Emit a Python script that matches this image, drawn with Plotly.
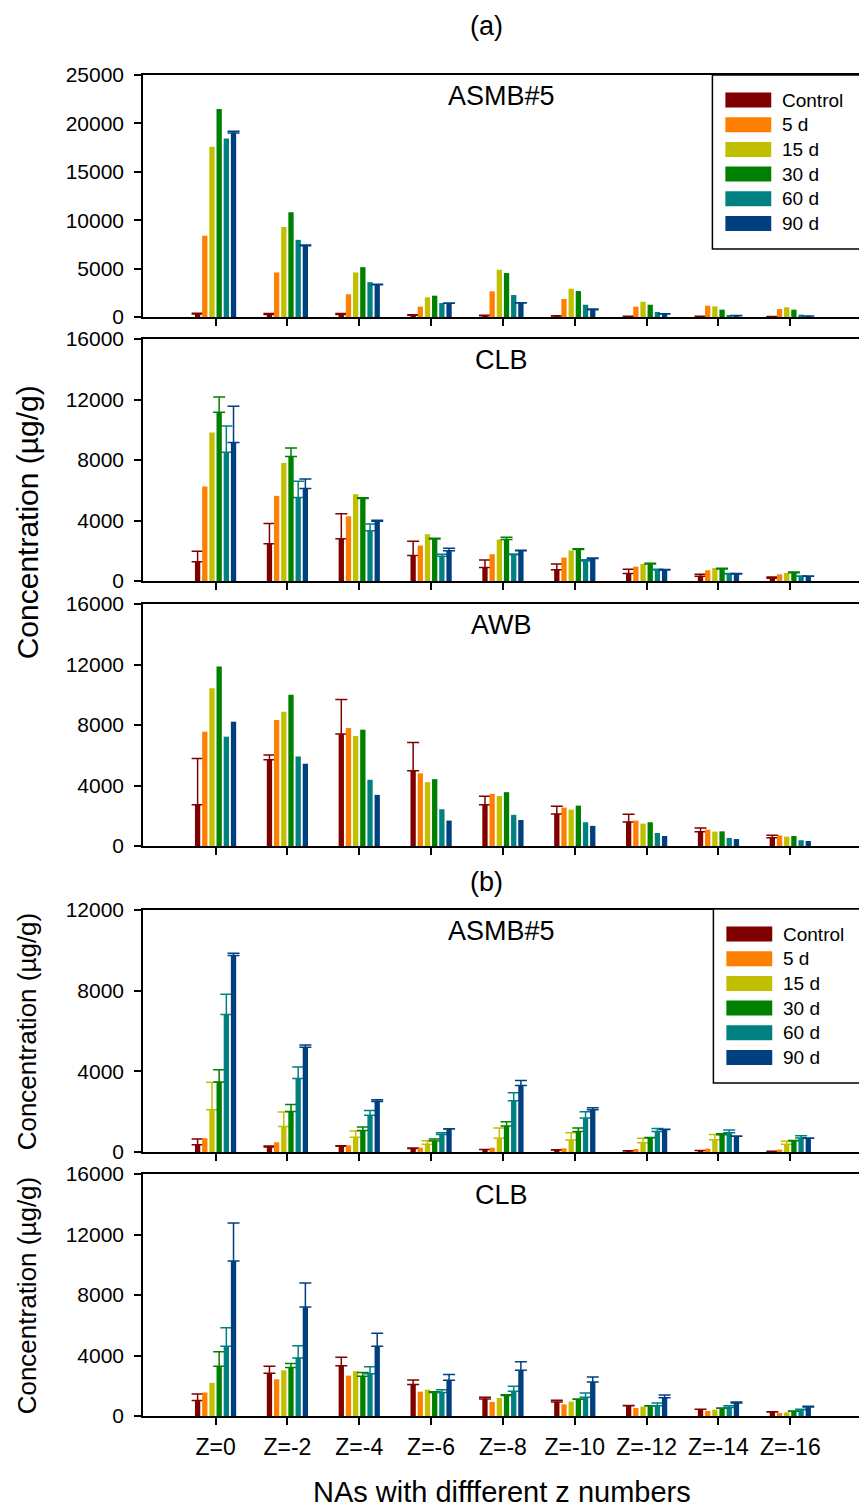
import plotly.graph_objects as go

# ---------------- data ----------------
categories = ["Z=0", "Z=-2", "Z=-4", "Z=-6", "Z=-8", "Z=-10", "Z=-12", "Z=-14", "Z=-16"]
series_names = ["Control", "5 d", "15 d", "30 d", "60 d", "90 d"]
series_colors = ["#800000", "#FF8000", "#C0C000", "#008000", "#008080", "#004080"]

# (a) ASMB#5
a_asmb_control = [300, 250, 250, 180, 140, 100, 80, 60, 50]
a_asmb_control_err = [100, 100, 100, 50, 30, 20, 10, 10, 10]
a_asmb_5d = [8400, 4600, 2350, 1070, 2650, 1860, 1070, 1170, 820]
a_asmb_15d = [17600, 9300, 4600, 2030, 4880, 2920, 1580, 1100, 1000]
a_asmb_30d = [21500, 10820, 5150, 2200, 4540, 2680, 1270, 760, 760]
a_asmb_60d = [18450, 7970, 3600, 1440, 2270, 1270, 520, 200, 240]
a_asmb_90d = [19000, 7350, 3330, 1410, 1440, 760, 310, 140, 100]
a_asmb_90d_err = [200, 80, 60, 40, 40, 70, 30, 20, 10]

# (a) CLB
a_clb_control = [1280, 2470, 2800, 1680, 900, 750, 490, 310, 180]
a_clb_control_err = [690, 1330, 1640, 950, 490, 380, 280, 130, 80]
a_clb_5d = [6250, 5630, 4280, 2340, 1770, 1550, 950, 710, 440]
a_clb_15d = [9820, 7810, 5740, 3090, 2740, 2010, 1130, 860, 530]
a_clb_30d = [11150, 8230, 5450, 2780, 2740, 2080, 1130, 790, 550]
a_clb_30d_err = [1010, 560, 50, 50, 150, 50, 50, 50, 40]
a_clb_60d = [8520, 5520, 3330, 1630, 1740, 1320, 730, 460, 310]
a_clb_60d_err = [1720, 1080, 440, 140, 40, 90, 40, 30, 20]
a_clb_90d = [9160, 6110, 3950, 2000, 2000, 1480, 730, 460, 310]
a_clb_90d_err = [2390, 640, 60, 160, 30, 40, 30, 30, 20]

# (a) AWB
a_awb_control = [2720, 5700, 7400, 4970, 2720, 2120, 1590, 950, 550]
a_awb_control_err = [3070, 310, 2280, 1880, 570, 510, 510, 240, 160]
a_awb_5d = [7560, 8330, 7800, 4800, 3450, 2540, 1680, 1080, 690]
a_awb_15d = [10430, 8880, 7270, 4220, 3310, 2410, 1480, 950, 620]
a_awb_30d = [11870, 10000, 7690, 4420, 3560, 2670, 1570, 970, 660]
a_awb_60d = [7230, 5920, 4380, 2430, 2060, 1570, 860, 530, 380]
a_awb_90d = [8220, 5440, 3380, 1680, 1720, 1330, 660, 460, 330]

# (b) ASMB#5
b_asmb_control = [360, 250, 280, 170, 120, 100, 50, 70, 30]
b_asmb_control_err = [280, 50, 30, 30, 10, 10, 10, 10, 10]
b_asmb_5d = [680, 480, 330, 210, 210, 180, 150, 170, 120]
b_asmb_15d = [2100, 1270, 730, 380, 680, 590, 460, 610, 380]
b_asmb_15d_err = [1360, 710, 310, 180, 510, 370, 220, 260, 150]
b_asmb_30d = [3470, 2010, 1070, 540, 1290, 1020, 710, 860, 560]
b_asmb_30d_err = [610, 350, 170, 100, 210, 170, 10, 50, 10]
b_asmb_60d = [6820, 3650, 1820, 870, 2540, 1680, 1020, 960, 690]
b_asmb_60d_err = [1000, 570, 240, 90, 400, 320, 150, 130, 120]
b_asmb_90d = [9740, 5200, 2510, 1140, 3300, 2100, 1120, 780, 680]
b_asmb_90d_err = [110, 100, 80, 10, 250, 90, 10, 10, 10]

# (b) CLB
b_clb_control = [1020, 2830, 3330, 2080, 1130, 930, 680, 440, 260]
b_clb_control_err = [440, 460, 560, 300, 110, 110, 20, 10, 20]
b_clb_5d = [1550, 2430, 2670, 1610, 930, 770, 530, 330, 200]
b_clb_15d = [2190, 3020, 2960, 1740, 1190, 950, 620, 420, 240]
b_clb_30d = [3290, 3200, 2630, 1550, 1350, 1100, 660, 510, 310]
b_clb_30d_err = [950, 270, 240, 50, 50, 30, 20, 20, 20]
b_clb_60d = [4610, 3840, 2800, 1550, 1630, 1240, 680, 570, 420]
b_clb_60d_err = [1220, 800, 450, 190, 330, 280, 180, 110, 30]
b_clb_90d = [10240, 7200, 4610, 2360, 3020, 2250, 1210, 860, 600]
b_clb_90d_err = [2520, 1590, 860, 380, 560, 330, 180, 70, 40]

panel_titles = ["ASMB#5", "CLB", "AWB", "ASMB#5", "CLB"]
y_tick_sets = [
    [0, 5000, 10000, 15000, 20000, 25000],
    [0, 4000, 8000, 12000, 16000],
    [0, 4000, 8000, 12000, 16000],
    [0, 4000, 8000, 12000],
    [0, 4000, 8000, 12000, 16000],
]

panels = [
    ([a_asmb_control, a_asmb_5d, a_asmb_15d, a_asmb_30d, a_asmb_60d, a_asmb_90d],
     [a_asmb_control_err, None, None, None, None, a_asmb_90d_err]),
    ([a_clb_control, a_clb_5d, a_clb_15d, a_clb_30d, a_clb_60d, a_clb_90d],
     [a_clb_control_err, None, None, a_clb_30d_err, a_clb_60d_err, a_clb_90d_err]),
    ([a_awb_control, a_awb_5d, a_awb_15d, a_awb_30d, a_awb_60d, a_awb_90d],
     [a_awb_control_err, None, None, None, None, None]),
    ([b_asmb_control, b_asmb_5d, b_asmb_15d, b_asmb_30d, b_asmb_60d, b_asmb_90d],
     [b_asmb_control_err, None, b_asmb_15d_err, b_asmb_30d_err, b_asmb_60d_err, b_asmb_90d_err]),
    ([b_clb_control, b_clb_5d, b_clb_15d, b_clb_30d, b_clb_60d, b_clb_90d],
     [b_clb_control_err, None, None, b_clb_30d_err, b_clb_60d_err, b_clb_90d_err]),
]

# ---------------- layout geometry (screen pixels; page body has 8px margin) ----------------
OFF = 8
W, H = 867 - OFF, 1510 - OFF
P_LEFT, P_RIGHT, P_TOP, P_BOT = 143, 862, 75, 1416
ML, MR, MT, MB = P_LEFT - OFF, (W + OFF) - P_RIGHT, P_TOP - OFF, (H + OFF) - P_BOT
panel_px = [(75, 317), (339, 581), (604, 846), (910, 1152), (1174, 1416)]


def py(pix):
    return (P_BOT - pix) / (P_BOT - P_TOP)


def px(pix):
    return (pix - P_LEFT) / (P_RIGHT - P_LEFT)


FONT = "Liberation Sans, Arial, Helvetica, sans-serif"

fig = go.Figure()
for i, (vals, errs) in enumerate(panels):
    n = i + 1
    xa = "x" if n == 1 else f"x{n}"
    ya = "y" if n == 1 else f"y{n}"
    for k, name in enumerate(series_names):
        kw = {}
        if errs[k] is not None:
            kw["error_y"] = dict(type="data", array=errs[k], arrayminus=[0] * len(errs[k]),
                                 symmetric=False, color=series_colors[k], thickness=1.5, width=6)
        fig.add_trace(go.Bar(
            x=categories, y=vals[k], name=name, xaxis=xa, yaxis=ya,
            marker=dict(color=series_colors[k], line=dict(width=0)),
            showlegend=False, **kw))

layout = dict(
    width=W, height=H, margin=dict(l=ML, r=MR, t=MT, b=MB, pad=0),
    paper_bgcolor="white", plot_bgcolor="white",
    barmode="group", bargap=0.40, bargroupgap=0.26,
    font=dict(family=FONT, color="black"),
    showlegend=False,
)
for i in range(5):
    n = i + 1
    sfx = "" if n == 1 else str(n)
    top, bot = panel_px[i]
    layout[f"xaxis{sfx}"] = dict(
        type="category", range=[-1.01, 8.97], domain=[0, 1], anchor=f"y{sfx}",
        showline=True, linecolor="black", linewidth=1.5, mirror=True,
        ticks="outside", ticklen=7, tickwidth=1.5, tickcolor="black",
        showgrid=False, zeroline=False, showticklabels=(n == 5),
        tickfont=dict(size=23, family=FONT), ticklabelstandoff=3,
    )
    ticks = y_tick_sets[i]
    layout[f"yaxis{sfx}"] = dict(
        range=[0, ticks[-1]], domain=[py(bot), py(top)], anchor=f"x{sfx}",
        tickvals=ticks, ticktext=[str(t) for t in ticks],
        showline=True, linecolor="black", linewidth=1.5, mirror=True,
        ticks="outside", ticklen=7, tickwidth=1.5, tickcolor="black",
        showgrid=False, zeroline=False, tickfont=dict(size=21, family=FONT),
        ticklabelstandoff=6,
    )

annotations = []
shapes = []

# legends (boxes in panels (a) ASMB#5 and (b) ASMB#5), built from the series lists
legend_boxes = [(714, 75, 862, 249, 100), (715, 909, 862, 1083, 934)]
for (lx0, ly0, lx1, ly1, first_y) in legend_boxes:
    shapes.append(dict(type="rect", xref="paper", yref="paper",
                       x0=px(lx0), x1=px(lx1), y0=py(ly1), y1=py(ly0),
                       line=dict(color="black", width=1.5), fillcolor="white", layer="above"))
    for k, name in enumerate(series_names):
        yc = first_y + 24.7 * k
        shapes.append(dict(type="rect", xref="paper", yref="paper",
                           x0=px(lx0 + 13), x1=px(lx0 + 59), y0=py(yc + 7.5), y1=py(yc - 7.5),
                           line=dict(width=0), fillcolor=series_colors[k], layer="above"))
        annotations.append(dict(text=name, xref="paper", yref="paper", x=px(lx0 + 68),
                                y=py(yc), xanchor="left", yanchor="middle", showarrow=False,
                                font=dict(size=19, family=FONT)))

for i, t in enumerate(panel_titles):
    n = i + 1
    sfx = "" if n == 1 else str(n)
    annotations.append(dict(text=t, xref=f"x{sfx} domain", yref=f"y{sfx} domain",
                            x=0.5, y=1 - 21 / 242, xanchor="center", yanchor="middle",
                            showarrow=False, font=dict(size=27, family=FONT)))
annotations += [
    dict(text="(a)", xref="paper", yref="paper", x=px(487), y=py(26), xanchor="center",
         yanchor="middle", showarrow=False, font=dict(size=27, family=FONT)),
    dict(text="(b)", xref="paper", yref="paper", x=px(487), y=py(882), xanchor="center",
         yanchor="middle", showarrow=False, font=dict(size=27, family=FONT)),
    dict(text="NAs with diffferent z numbers", xref="paper", yref="paper", x=px(503),
         y=py(1492), xanchor="center", yanchor="middle", showarrow=False,
         font=dict(size=29, family=FONT)),
]
for ycen, fsize in ((522, 30), (1031, 26), (1295, 26)):
    annotations.append(dict(text="Concentration (µg/g)", xref="paper", yref="paper",
                            x=px(27), y=py(ycen), xanchor="center", yanchor="middle",
                            textangle=-90, showarrow=False, font=dict(size=fsize, family=FONT)))
layout["annotations"] = annotations
layout["shapes"] = shapes

fig.update_layout(**layout)
fig.write_html("out.html")
